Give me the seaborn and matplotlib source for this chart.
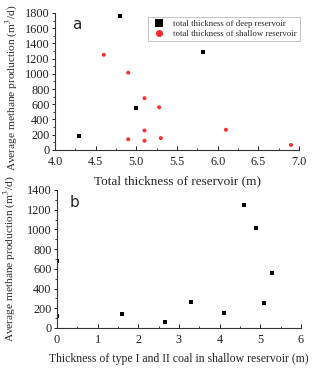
import matplotlib
matplotlib.use("Agg")
import matplotlib.pyplot as plt
import seaborn as sns
import pandas as pd
from matplotlib.ticker import MultipleLocator

# panel a: deep reservoir
deep_thick = [4.3, 4.8, 5.0, 5.82]
deep_prod = [180, 1755, 545, 1290]

# panel a: shallow reservoir
shallow_thick = [4.6, 4.9, 5.1, 5.28, 5.1, 4.9, 5.1, 5.3, 6.1, 6.9]
shallow_prod = [1250, 1015, 680, 560, 255, 140, 120, 155, 265, 65]

# panel b: type I and II coal thickness in shallow reservoir
coal_thick = [0, 0, 1.6, 2.65, 3.3, 4.1, 4.6, 4.9, 5.1, 5.3]
coal_prod = [680, 120, 140, 65, 265, 155, 1250, 1015, 255, 560]

ylabel = "Average methane production (m$^3$/d)"

sns.set_theme(style="white")
plt.rcParams["font.family"] = ["Liberation Serif", "DejaVu Serif"]
plt.rcParams["mathtext.fontset"] = "stix"

fig = plt.figure(figsize=(3.35, 3.71), dpi=100)
ax1 = fig.add_axes([0.164, 0.596, 0.729, 0.369])
ax2 = fig.add_axes([0.170, 0.116, 0.728, 0.372])

df_a = pd.concat([
    pd.DataFrame({"x": deep_thick, "y": deep_prod,
                  "kind": "total thickness of deep reservoir"}),
    pd.DataFrame({"x": shallow_thick, "y": shallow_prod,
                  "kind": "total thickness of shallow reservoir"}),
])
sns.scatterplot(data=df_a, x="x", y="y", hue="kind", style="kind",
                markers={"total thickness of deep reservoir": "s",
                         "total thickness of shallow reservoir": "o"},
                palette={"total thickness of deep reservoir": "black",
                         "total thickness of shallow reservoir": "#ff2a2a"},
                s=8, linewidth=0, ax=ax1)

df_b = pd.DataFrame({"x": coal_thick, "y": coal_prod})
sns.scatterplot(data=df_b, x="x", y="y", marker="s", color="black",
                s=8, linewidth=0, ax=ax2, clip_on=True)

ax1.set_xlim(4.0, 7.0)
ax1.set_ylim(0, 1800)
ax1.xaxis.set_major_locator(MultipleLocator(0.5))
ax1.xaxis.set_minor_locator(MultipleLocator(0.25))
ax1.yaxis.set_major_locator(MultipleLocator(200))
ax1.yaxis.set_minor_locator(MultipleLocator(100))
ax1.set_xlabel("Total thickness of reservoir (m)", fontsize=9.5, labelpad=5)
ax1.set_ylabel(ylabel, fontsize=8.2)
ax1.yaxis.set_label_coords(-0.143, 0.45)

ax2.set_xlim(0, 6)
ax2.set_ylim(0, 1400)
ax2.xaxis.set_major_locator(MultipleLocator(1))
ax2.xaxis.set_minor_locator(MultipleLocator(0.5))
ax2.yaxis.set_major_locator(MultipleLocator(200))
ax2.yaxis.set_minor_locator(MultipleLocator(100))
ax2.set_xlabel("Thickness of type I and II coal in shallow reservoir (m)",
               fontsize=8.5, labelpad=5)
ax2.set_ylabel(ylabel, fontsize=8.2)
ax2.yaxis.set_label_coords(-0.158, 0.5)

for ax in (ax1, ax2):
    sns.despine(ax=ax)
    for sp in ("left", "bottom"):
        ax.spines[sp].set_color("#333333")
        ax.spines[sp].set_linewidth(0.8)
    ax.tick_params(which="both", labelsize=8.8, colors="#222222",
                   bottom=True, left=True)
    ax.tick_params(axis="x", which="both", pad=4.5)
    ax.tick_params(axis="y", which="both", pad=1.5)
    ax.tick_params(axis="x", which="major", direction="in", length=3, width=0.7)
    ax.tick_params(axis="x", which="minor", direction="in", length=1.8, width=0.6)
    ax.tick_params(axis="y", which="major", direction="out", length=2.5, width=0.7)
    ax.tick_params(axis="y", which="minor", direction="out", length=1.5, width=0.6)

ax1.text(0.07, 0.97, "a", transform=ax1.transAxes, fontsize=11,
         family="DejaVu Sans", va="top")
ax2.text(0.05, 0.96, "b", transform=ax2.transAxes, fontsize=11,
         family="DejaVu Sans", va="top")

leg = ax1.legend(loc="upper right", bbox_to_anchor=(1.02, 1.0), fontsize=6.3,
                 frameon=True, fancybox=False, edgecolor="#aaaaaa",
                 handletextpad=0.6, borderpad=0.3, labelspacing=0.2,
                 markerscale=1.8)
leg.get_frame().set_linewidth(0.6)

fig.savefig("out.png", dpi=100)
